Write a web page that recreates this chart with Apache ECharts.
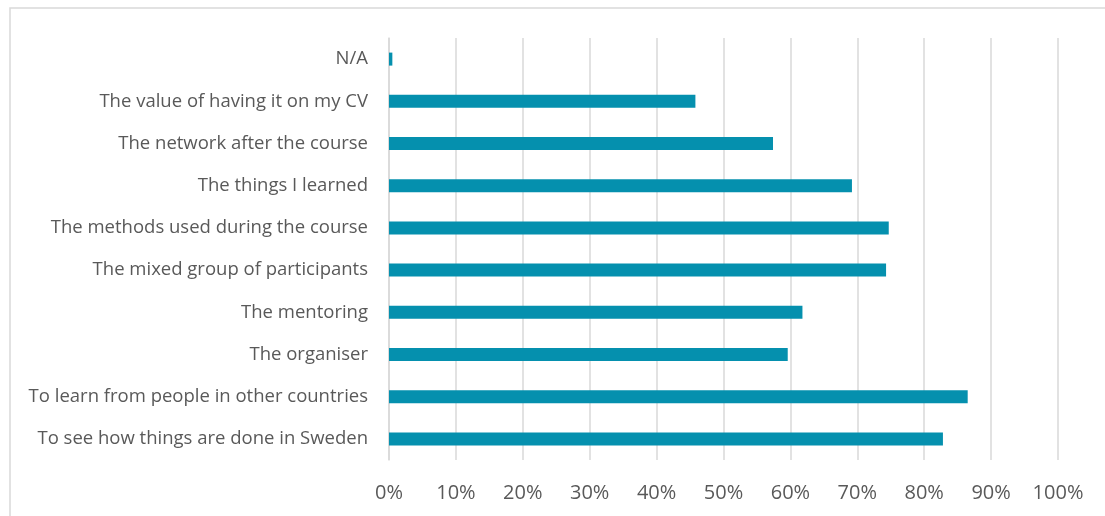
<!DOCTYPE html>
<html>
<head>
<meta charset="utf-8">
<script src="https://cdn.jsdelivr.net/npm/echarts@6/dist/echarts.min.js"></script>
<style>
  html, body { margin: 0; padding: 0; background: #fff; }
  #chart { width: 1105px; height: 516px; }
</style>
</head>
<body>
<div id="chart"></div>
<script>
// Reasons given by participants, bottom to top as drawn on the category axis
const categories = [
  'To see how things are done in Sweden',
  'To learn from people in other countries',
  'The organiser',
  'The mentoring',
  'The mixed group of participants',
  'The methods used during the course',
  'The things I learned',
  'The network after the course',
  'The value of having it on my CV',
  'N/A'
];
// Share of respondents (%)
const shares = [82.8, 86.5, 59.6, 61.8, 74.3, 74.7, 69.2, 57.4, 45.8, 0.5];
const xTicks = [0, 10, 20, 30, 40, 50, 60, 70, 80, 90, 100];

const chart = echarts.init(document.getElementById('chart'));
const font = '"Open Sans", sans-serif';

chart.setOption({
  animation: false,
  backgroundColor: '#ffffff',
  graphic: [{
    type: 'rect',
    shape: { x: 10, y: 8, width: 1200, height: 600 },
    style: { fill: 'none', stroke: '#d9d9d9', lineWidth: 1.5 },
    silent: true
  }],
  grid: { left: 389, right: 47, top: 38, bottom: 56, containLabel: false },
  xAxis: {
    type: 'value',
    min: xTicks[0],
    max: xTicks[xTicks.length - 1],
    interval: 10,
    axisLine: { show: false },
    axisTick: { show: false },
    splitLine: { show: true, lineStyle: { color: '#d9d9d9', width: 1.5 } },
    axisLabel: {
      formatter: v => v + '%',
      color: '#595959',
      fontSize: 20,
      fontFamily: font,
      margin: 23
    }
  },
  yAxis: {
    type: 'category',
    data: categories,
    axisLine: { show: true, lineStyle: { color: '#d9d9d9', width: 1.5 } },
    axisTick: { show: false },
    axisLabel: {
      color: '#595959',
      fontSize: 18.5,
      fontFamily: font,
      margin: 21
    }
  },
  series: [{
    type: 'bar',
    data: shares,
    barWidth: 13,
    itemStyle: { color: '#0590ae' }
  }]
});
</script>
</body>
</html>
